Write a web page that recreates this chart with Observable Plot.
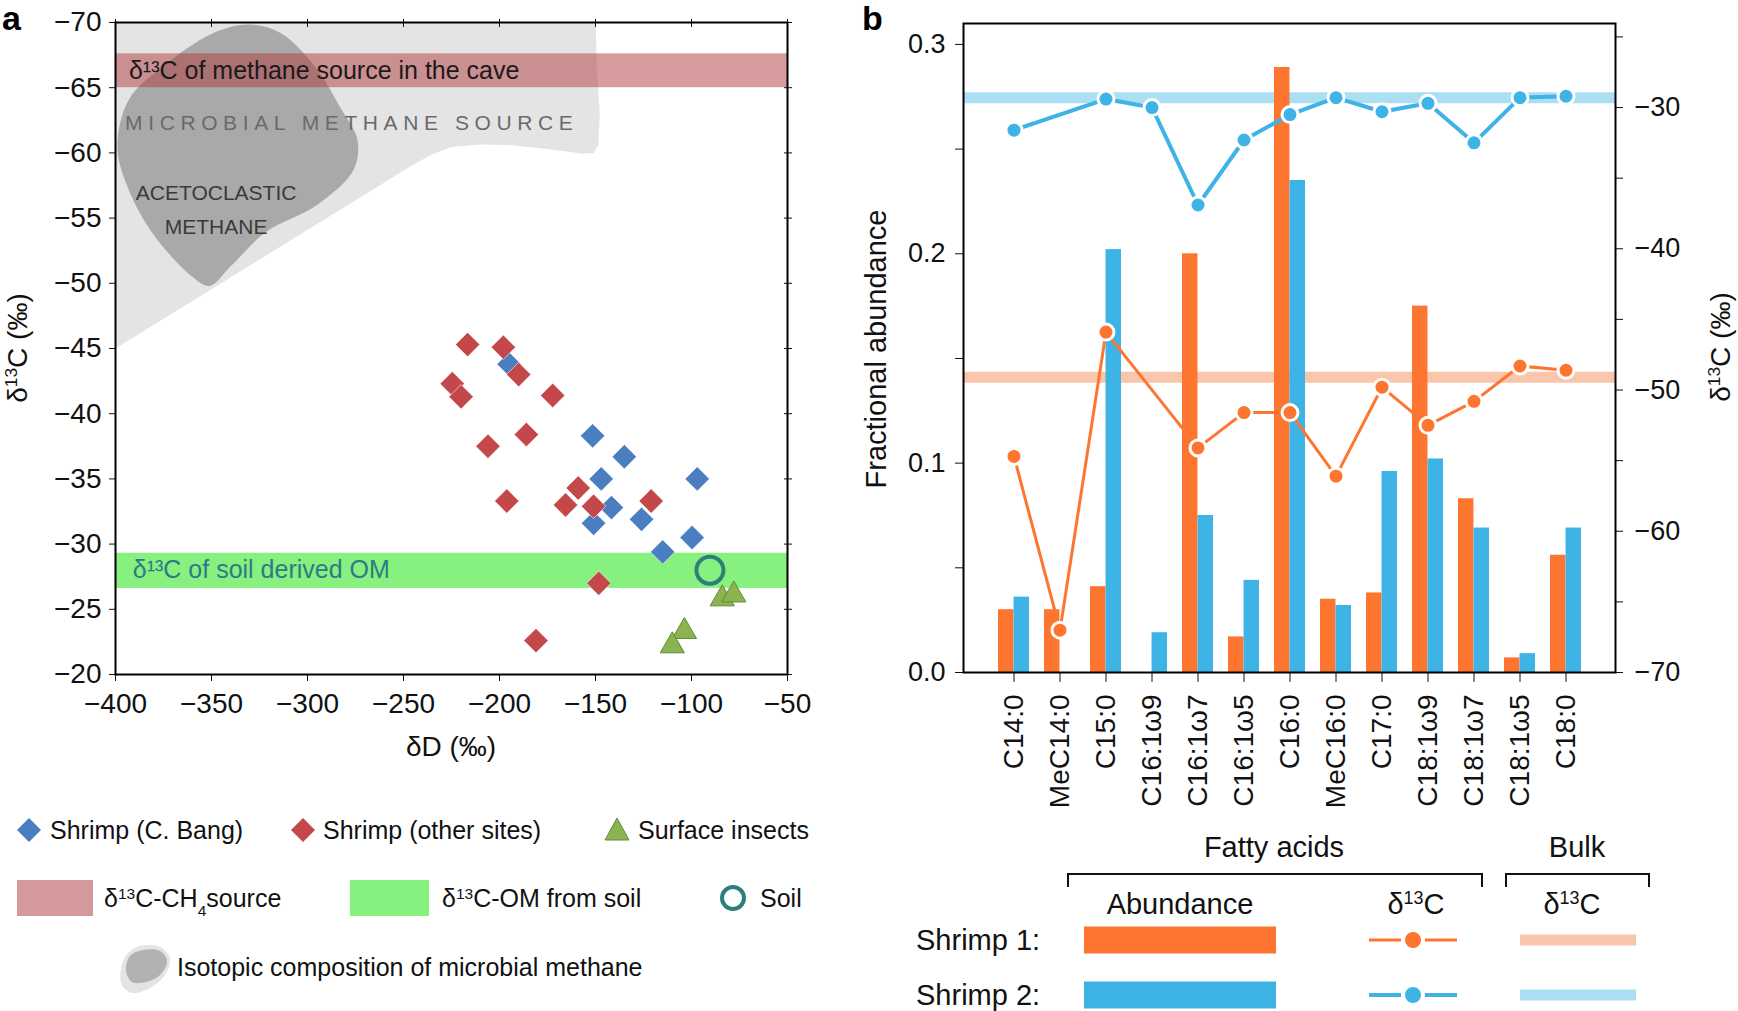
<!DOCTYPE html>
<html><head><meta charset="utf-8">
<script src="https://cdn.jsdelivr.net/npm/d3@7"></script>
<script src="https://cdn.jsdelivr.net/npm/@observablehq/plot@0.6"></script>
<style>
html,body{margin:0;padding:0;background:#fff;}
#root{position:relative;width:1738px;height:1011px;overflow:hidden;font-family:"Liberation Sans",Arial,Helvetica,sans-serif;background:#fff;}
#pa,#pb{position:absolute;top:0;}
#pa{left:0;width:800px;}
#pb{left:860px;width:878px;}
#pa svg,#pb svg{overflow:visible;}
#ov{position:absolute;left:0;top:0;pointer-events:none;}
</style></head>
<body><div id="root"><div id="pa"></div><div id="pb"></div><svg id="ov" width="1738" height="1011"></svg></div>
<script>
// ---------------- Panel a data ----------------
const xDomain = [-400, -50];
const yDomain = [-20, -70];
const xTicks = [-400, -350, -300, -250, -200, -150, -100, -50];
const yTicks = [-70, -65, -60, -55, -50, -45, -40, -35, -30, -25, -20];
// [δD, δ13C]
const shrimpBang = [[-195,-43.8],[-151.5,-38.3],[-135,-36.7],[-147,-35.0],[-97,-35.0],[-141.7,-32.8],[-151,-31.6],[-126,-31.9],[-99.7,-30.5],[-115,-29.4]];
const shrimpOther = [[-216.6,-45.3],[-198,-45.1],[-190,-43.0],[-224.6,-42.3],[-220,-41.3],[-172.3,-41.4],[-186,-38.4],[-206,-37.5],[-196.2,-33.3],[-159,-34.3],[-165.6,-33.0],[-151,-32.9],[-121,-33.3],[-148.3,-27.0],[-181,-22.6]];
const surfaceInsects = [[-84,-25.8],[-78,-26.1],[-103.7,-23.3],[-110,-22.2]];
const soil = [[-90.4,-28.0]];
const methaneSourceBand = [[-67.6, -65.0]];
const soilOMBand = [[-29.3, -26.6]];
const microbialRegion = [[-400,-72],[-150,-72],[-149.5,-67],[-147.8,-63],[-148.5,-60.6],[-151,-60.0],[-157,-59.95],[-175,-60.3],[-195,-60.6],[-210,-60.65],[-225,-60.45],[-235,-59.9],[-245,-59.1],[-400,-45]];
const acetoclasticRegion = [[-330,-69.85],[-314,-69.2],[-296,-66.6],[-283,-63.5],[-274,-61],[-276,-58.7],[-295,-56],[-322,-53.9],[-340,-51.3],[-351,-49.8],[-360,-50.5],[-381,-53.9],[-394,-57.5],[-399,-60.5],[-393,-64.1],[-375.5,-66.6],[-349,-69.2]];
const bandLabels = [{x:-393, y:-66.3, text:"δ¹³C of methane source in the cave"}];
const soilLabels = [{x:-391, y:-28.0, text:"δ¹³C of soil derived OM"}];
const regionLabels = [{x:-395, y:-62.3, text:"MICROBIAL METHANE SOURCE"}];
const acetoLabels = [{x:-347.6, y:-56.9, text:"ACETOCLASTIC"},{x:-347.6, y:-54.3, text:"METHANE"}];

// ---------------- Panel b data ----------------
const categories = ["C14:0","MeC14:0","C15:0","C16:1ω9","C16:1ω7","C16:1ω5","C16:0","MeC16:0","C17:0","C18:1ω9","C18:1ω7","C18:1ω5","C18:0"];
const abundance1 = [0.030,0.030,0.041,0,0.200,0.017,0.289,0.035,0.038,0.175,0.083,0.007,0.056];
const abundance2 = [0.036,0,0.202,0.019,0.075,0.044,0.235,0.032,0.096,0.102,0.069,0.009,0.069];
const d13C1 = [-54.7,-67.0,-45.9,null,-54.1,-51.6,-51.6,-56.1,-49.8,-52.5,-50.8,-48.3,-48.6];
const d13C2 = [-31.6,null,-29.4,-30.0,-36.9,-32.3,-30.5,-29.3,-30.3,-29.7,-32.5,-29.3,-29.2];
const bulk1 = [-49.1];
const bulk2 = [-29.3];
const leftDomain = [0, 0.31];
const rightDomain = [-70, -24.05];
const leftTicks = [0, 0.05, 0.1, 0.15, 0.2, 0.25, 0.3];
const rightTicks = [-70, -65, -60, -55, -50, -45, -40, -35, -30, -25];

const FONT = '"Liberation Sans", Arial, Helvetica, sans-serif';
const ORANGE = "#fe7530", BLUE = "#3db4e5", ORANGE_L = "#f9c6ab", BLUE_L = "#acdff4";

// ---------------- Panel a ----------------
const pa = Plot.plot({
  width: 800, height: 760,
  marginLeft: 115, marginRight: 13, marginTop: 22, marginBottom: 86,
  x: {domain: xDomain},
  y: {domain: yDomain},
  style: {fontFamily: FONT, fontSize: "28px", color: "#111", background: "white"},
  marks: [
    Plot.line(microbialRegion, {x: d => d[0], y: d => d[1], fill: "#e4e4e4", stroke: "none", curve: "linear-closed", clip: true}),
    Plot.line(acetoclasticRegion, {x: d => d[0], y: d => d[1], fill: "#a9a9a9", stroke: "none", curve: "catmull-rom-closed", clip: true}),
    Plot.rect(methaneSourceBand, {x1: xDomain[0], x2: xDomain[1], y1: d => d[0], y2: d => d[1], fill: "#b03a3c", fillOpacity: 0.5}),
    Plot.rect(soilOMBand, {x1: xDomain[0], x2: xDomain[1], y1: d => d[0], y2: d => d[1], fill: "#86f17f"}),
    Plot.text(bandLabels, {x: "x", y: "y", text: "text", textAnchor: "start", fontSize: 25, fill: "#1a1a1a"}),
    Plot.text(soilLabels, {x: "x", y: "y", text: "text", textAnchor: "start", fontSize: 25, fill: "#2e7a86"}),
    Plot.text(regionLabels, {x: "x", y: "y", text: "text", textAnchor: "start", fontSize: 21, fill: "#6a6a6a", className: "spaced"}),
    Plot.text(acetoLabels, {x: "x", y: "y", text: "text", textAnchor: "middle", fontSize: 21, fill: "#3a3a3a"}),
    Plot.dot(shrimpBang, {x: d => d[0], y: d => d[1], symbol: "diamond2", r: 11, fill: "#4a7ec0", stroke: "#ffffff", strokeWidth: 0.6}),
    Plot.dot(shrimpOther, {x: d => d[0], y: d => d[1], symbol: "diamond2", r: 11, fill: "#c4474a", stroke: "#ffffff", strokeWidth: 0.6}),
    Plot.dot(surfaceInsects, {x: d => d[0], y: d => d[1], symbol: "triangle", r: 9, fill: "#8db350", stroke: "#5f8c3a", strokeWidth: 1}),
    Plot.dot(soil, {x: d => d[0], y: d => d[1], r: 13.5, fill: "none", stroke: "#2e7f7c", strokeWidth: 4}),
    Plot.axisX({anchor: "bottom", ticks: xTicks, tickSize: 7, tickPadding: 12, fontSize: 28, label: null}),
    Plot.axisX({anchor: "top", ticks: xTicks, tickSize: 8, dy: 4, tickFormat: () => "", label: null}),
    Plot.axisY({anchor: "left", ticks: yTicks, tickSize: 6, tickPadding: 8, fontSize: 28, label: null}),
    Plot.axisY({anchor: "right", ticks: yTicks, tickSize: 8, dx: -4, tickFormat: () => "", label: null}),
    Plot.frame({stroke: "#000", strokeWidth: 2})
  ]
});
document.getElementById("pa").append(pa);
// letter-spaced region label
d3.select(pa).selectAll("text").filter(function () { return this.textContent === regionLabels[0].text; })
  .attr("letter-spacing", 5.6);

// ---------------- Panel b ----------------
const toL = d => (d - rightDomain[0]) / (rightDomain[1] - rightDomain[0]) * (leftDomain[1] - leftDomain[0]) + leftDomain[0];
const fromL = a => (a - leftDomain[0]) / (leftDomain[1] - leftDomain[0]) * (rightDomain[1] - rightDomain[0]) + rightDomain[0];
const rows = categories.map((c, i) => ({c, a1: abundance1[i], a2: abundance2[i], d1: d13C1[i], d2: d13C2[i]}));
const Wb = 878, Hb = 820, mLb = 103, mRb = 123, mTb = 23, mBb = 148, insetB = 17, padB = 0.33;
const stepB = (Wb - mLb - mRb - 2 * insetB) / (categories.length + padB);
const bwB = stepB * (1 - padB);
const pb = Plot.plot({
  width: Wb, height: Hb,
  marginLeft: mLb, marginRight: mRb, marginTop: mTb, marginBottom: mBb,
  x: {type: "band", domain: categories, padding: padB, range: [mLb + insetB, Wb - mRb - insetB]},
  y: {domain: leftDomain},
  style: {fontFamily: FONT, fontSize: "28px", color: "#111", background: "white"},
  marks: [
    Plot.ruleY(bulk1.map(toL), {stroke: ORANGE_L, strokeWidth: 11}),
    Plot.ruleY(bulk2.map(toL), {stroke: BLUE_L, strokeWidth: 11}),
    Plot.barY(rows, {x: "c", y: "a1", fill: ORANGE, insetRight: bwB / 2}),
    Plot.barY(rows, {x: "c", y: "a2", fill: BLUE, insetLeft: bwB / 2}),
    Plot.line(rows.filter(d => d.d1 != null), {x: "c", y: d => toL(d.d1), stroke: ORANGE, strokeWidth: 3}),
    Plot.dot(rows.filter(d => d.d1 != null), {x: "c", y: d => toL(d.d1), r: 8, fill: ORANGE, stroke: "white", strokeWidth: 3}),
    Plot.line(rows.filter(d => d.d2 != null), {x: "c", y: d => toL(d.d2), stroke: BLUE, strokeWidth: 4}),
    Plot.dot(rows.filter(d => d.d2 != null), {x: "c", y: d => toL(d.d2), r: 8, fill: BLUE, stroke: "white", strokeWidth: 3}),
    Plot.axisX({anchor: "bottom", tickRotate: -90, tickSize: 10, tickPadding: 12, fontSize: 28, label: null}),
    Plot.axisY({anchor: "left", ticks: leftTicks, tickSize: 8, tickPadding: 10, fontSize: 27, label: null,
      tickFormat: d => Math.abs(d * 10 - Math.round(d * 10)) < 1e-6 ? d.toFixed(1) : ""}),
    Plot.axisY({anchor: "right", ticks: rightTicks.map(toL), tickSize: 7, tickPadding: 12, fontSize: 27, label: null,
      tickFormat: a => { const d = Math.round(fromL(a)); return d % 10 === 0 ? "−" + Math.abs(d) : ""; }}),
    Plot.frame({stroke: "#000", strokeWidth: 2})
  ]
});
document.getElementById("pb").append(pb);

// ---------------- Overlay: labels & legends ----------------
const ov = d3.select("#ov").attr("font-family", FONT);
function label(x, y, parts, {size = 25, anchor = "start", rotate = 0, weight = "normal", fill = "#111"} = {}) {
  const t = ov.append("text")
    .attr("transform", `translate(${x},${y}) rotate(${rotate})`)
    .attr("y", 0.35 * size)
    .attr("text-anchor", anchor)
    .attr("font-size", size).attr("font-weight", weight).attr("fill", fill);
  for (const p of parts) {
    const [s, kind] = Array.isArray(p) ? p : [p, ""];
    const ts = t.append("tspan").text(s);
    if (kind === "sup") ts.attr("baseline-shift", "super").attr("font-size", size * 0.62);
    if (kind === "sub") ts.attr("baseline-shift", "sub").attr("font-size", size * 0.62);
  }
  return t;
}
// panel letters
label(2, 18, ["a"], {size: 34, weight: "bold", fill: "#000"});
label(862, 18, ["b"], {size: 34, weight: "bold", fill: "#000"});
// axis titles
label(17, 348, ["δ", ["13", "sup"], "C (‰)"], {size: 28, anchor: "middle", rotate: -90});
label(451, 746, ["δD (‰)"], {size: 28, anchor: "middle"});
label(876, 349, ["Fractional abundance"], {size: 29, anchor: "middle", rotate: -90});
label(1720, 347, ["δ", ["13", "sup"], "C (‰)"], {size: 28, anchor: "middle", rotate: -90});

// legend a
const diamond = (cx, cy, hw, hh) => `M${cx},${cy - hh}L${cx + hw},${cy}L${cx},${cy + hh}L${cx - hw},${cy}Z`;
ov.append("path").attr("d", diamond(29, 830, 12, 12)).attr("fill", "#4a7ec0");
label(50, 830, ["Shrimp (C. Bang)"]);
ov.append("path").attr("d", diamond(303, 830, 12, 12)).attr("fill", "#c4474a");
label(323, 830, ["Shrimp (other sites)"]);
ov.append("path").attr("d", "M617,818L629,840L605,840Z").attr("fill", "#8db350").attr("stroke", "#5f8c3a");
label(638, 830, ["Surface insects"]);
ov.append("rect").attr("x", 17).attr("y", 880).attr("width", 76).attr("height", 36).attr("fill", "#d6999b");
label(104, 898, ["δ", ["13", "sup"], "C-CH", ["4", "sub"], "source"]);
ov.append("rect").attr("x", 350).attr("y", 880).attr("width", 79).attr("height", 36).attr("fill", "#86f17f");
label(442, 898, ["δ", ["13", "sup"], "C-OM from soil"]);
ov.append("circle").attr("cx", 733).attr("cy", 898).attr("r", 11).attr("fill", "none").attr("stroke", "#2e7f7c").attr("stroke-width", 4);
label(760, 898, ["Soil"]);
const blobLine = d3.line().curve(d3.curveCatmullRomClosed);
ov.append("path").attr("d", blobLine([[140,946],[160,947],[170,958],[165,975],[150,988],[132,993],[122,985],[121,968],[128,953]])).attr("fill", "#e4e4e4");
ov.append("path").attr("d", blobLine([[143,950],[160,951],[167,961],[160,975],[146,982],[132,982],[126,971],[130,956]])).attr("fill", "#b2b2b2");
label(177, 967, ["Isotopic composition of microbial methane"]);

// legend b
label(1274, 847, ["Fatty acids"], {size: 29, anchor: "middle"});
label(1577, 847, ["Bulk"], {size: 29, anchor: "middle"});
ov.append("path").attr("d", "M1068,887V874H1482V887").attr("fill", "none").attr("stroke", "#111").attr("stroke-width", 2);
ov.append("path").attr("d", "M1506,887V874H1649V887").attr("fill", "none").attr("stroke", "#111").attr("stroke-width", 2);
label(1180, 904, ["Abundance"], {size: 29, anchor: "middle"});
label(1416, 904, ["δ", ["13", "sup"], "C"], {size: 29, anchor: "middle"});
label(1572, 904, ["δ", ["13", "sup"], "C"], {size: 29, anchor: "middle"});
[[940, "Shrimp 1:", ORANGE, ORANGE_L, 3], [995, "Shrimp 2:", BLUE, BLUE_L, 4]].forEach(([cy, name, c, cl, lw]) => {
  label(916, cy, [name], {size: 29});
  ov.append("rect").attr("x", 1084).attr("y", cy - 13.5).attr("width", 192).attr("height", 27).attr("fill", c);
  ov.append("line").attr("x1", 1369).attr("x2", 1457).attr("y1", cy).attr("y2", cy).attr("stroke", c).attr("stroke-width", lw);
  ov.append("circle").attr("cx", 1413).attr("cy", cy).attr("r", 10).attr("fill", c).attr("stroke", "white").attr("stroke-width", 4);
  ov.append("rect").attr("x", 1520).attr("y", cy - 5.5).attr("width", 116).attr("height", 11).attr("fill", cl);
});
</script></body></html>
